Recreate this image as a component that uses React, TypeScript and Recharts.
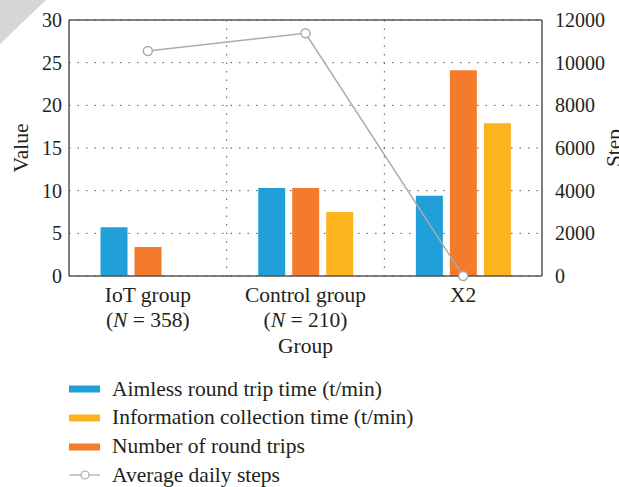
import React from "react";
import { ComposedChart, Bar, Line, XAxis, YAxis, CartesianGrid, ReferenceLine } from "recharts";

const GROUPS = ["IoT group", "Control group", "X2"];
const GROUP_N = ["358", "210", ""];
const AIMLESS = [5.7, 10.3, 9.4];
const ROUND_TRIPS = [3.4, 10.3, 24.1];
const INFO = [0, 7.5, 17.9];
const STEPS = [10550, 11380, 0];
const LEFT_TICKS = [0, 5, 10, 15, 20, 25, 30];
const RIGHT_TICKS = [0, 2000, 4000, 6000, 8000, 10000, 12000];

const BLUE = "#219fd9";
const ORANGE = "#f47b2c";
const YELLOW = "#fbb41d";
const GREY = "#ababab";
const AXIS = "#555";
const TEXT = "#231f20";
const FONT = "'Liberation Serif', 'DejaVu Serif', serif";
const FS = 20; // tick digits
const LFS = 21.5; // words

const LEGEND = [
  { name: "Aimless round trip time (t/min)", color: BLUE, kind: "bar" },
  { name: "Information collection time (t/min)", color: YELLOW, kind: "bar" },
  { name: "Number of round trips", color: ORANGE, kind: "bar" },
  { name: "Average daily steps", color: GREY, kind: "line" },
];

const data = GROUPS.map((g, i) => ({
  group: g,
  aimless: AIMLESS[i],
  trips: ROUND_TRIPS[i],
  info: INFO[i],
  steps: STEPS[i],
}));

function GroupTick({ x, y, payload, index }: any) {
  const n = GROUP_N[index];
  return (
    <g>
      <text x={x} y={y + 18} textAnchor="middle" fill={TEXT} fontSize={LFS} fontFamily={FONT}>
        {payload.value}
      </text>
      {n ? (
        <text x={x} y={y + 43} textAnchor="middle" fill={TEXT} fontSize={LFS} fontFamily={FONT}>
          (<tspan fontStyle="italic">N</tspan> = {n})
        </text>
      ) : null}
    </g>
  );
}

export default function App() {
  return (
    <div style={{ position: "absolute", left: 0, top: 0, width: 619, height: 487, background: "#fff", fontFamily: FONT, overflow: "hidden" }}>
      <ComposedChart
        width={619}
        height={487}
        data={data}
        margin={{ top: 20, right: 17, left: 19, bottom: 121 }}
        barCategoryGap="20%"
        barGap={7}
      >
        <CartesianGrid
          yAxisId="left"
          stroke="#555"
          strokeDasharray="1.5 7"
          verticalCoordinatesGenerator={({ offset }: any) =>
            [1, 2].map((k) => offset.left + (offset.width * k) / GROUPS.length)
          }
        />
        <XAxis
          dataKey="group"
          height={90}
          tick={<GroupTick />}
          tickLine={false}
          axisLine={{ stroke: AXIS, strokeWidth: 1.5 }}
          interval={0}
          label={{
            content: ({ viewBox }: any) => (
              <text x={viewBox.x + viewBox.width / 2} y={viewBox.y + 77} textAnchor="middle" fill={TEXT} fontSize={LFS} fontFamily={FONT}>
                Group
              </text>
            ),
          }}
        />
        <YAxis
          yAxisId="left"
          width={50}
          domain={[0, 30]}
          ticks={LEFT_TICKS}
          tickLine={false}
          tickMargin={1}
          axisLine={{ stroke: AXIS, strokeWidth: 1.5 }}
          tick={{ fill: TEXT, fontSize: FS, fontFamily: FONT }}
          label={{
            content: ({ viewBox }: any) => (
              <text transform={`translate(${viewBox.x + 9},${viewBox.y + viewBox.height / 2}) rotate(-90)`} textAnchor="middle" fill={TEXT} fontSize={LFS} fontFamily={FONT}>
                Value
              </text>
            ),
          }}
        />
        <YAxis
          yAxisId="right"
          orientation="right"
          width={60}
          domain={[0, 12000]}
          ticks={RIGHT_TICKS}
          tickLine={false}
          tickMargin={7}
          axisLine={{ stroke: AXIS, strokeWidth: 1.5 }}
          tick={{ fill: TEXT, fontSize: FS, fontFamily: FONT, textAnchor: "start" }}
          label={{
            content: ({ viewBox }: any) => (
              <text transform={`translate(${viewBox.x + viewBox.width + 19},${viewBox.y + viewBox.height / 2}) rotate(-90)`} textAnchor="middle" fill={TEXT} fontSize={LFS} fontFamily={FONT}>
                Step
              </text>
            ),
          }}
        />
        <ReferenceLine yAxisId="left" y={30} stroke={AXIS} strokeWidth={1.5} />
        <Bar yAxisId="left" dataKey="aimless" fill={BLUE} isAnimationActive={false} />
        <Bar yAxisId="left" dataKey="trips" fill={ORANGE} isAnimationActive={false} />
        <Bar yAxisId="left" dataKey="info" fill={YELLOW} isAnimationActive={false} />
        <Line
          yAxisId="right"
          type="linear"
          dataKey="steps"
          stroke={GREY}
          strokeWidth={1.5}
          dot={{ r: 4.5, fill: "#fff", stroke: GREY, strokeWidth: 1.5 }}
          isAnimationActive={false}
        />
      </ComposedChart>
      <svg width={50} height={50} style={{ position: "absolute", left: 0, top: 0 }}>
        <polygon points="0,0 46,0 0,44" fill="#d6d6d6" />
      </svg>
      <div style={{ position: "absolute", left: 58, top: 375, color: TEXT, fontSize: LFS, lineHeight: 1 }}>
        {LEGEND.map((item) => (
          <div key={item.name} style={{ display: "flex", alignItems: "center", height: 28.7 }}>
            <svg width={44} height={14} style={{ marginRight: 10 }}>
              {item.kind === "bar" ? (
                <rect x={11} y={3.5} width={31} height={7} fill={item.color} />
              ) : (
                <g>
                  <line x1={11} y1={7} x2={42} y2={7} stroke={item.color} strokeWidth={1.2} />
                  <circle cx={27} cy={7} r={4} fill="#fff" stroke={item.color} strokeWidth={1.2} />
                </g>
              )}
            </svg>
            <span>{item.name}</span>
          </div>
        ))}
      </div>
    </div>
  );
}
